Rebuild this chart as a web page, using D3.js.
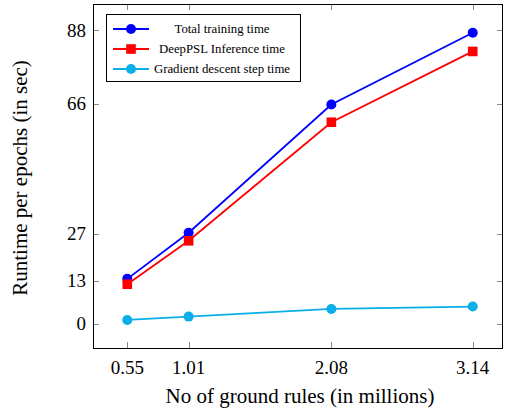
<!DOCTYPE html>
<html>
<head>
<meta charset="utf-8">
<script src="https://cdn.jsdelivr.net/npm/d3@7"></script>
<style>
  body { margin: 0; background: #fff; }
  text { font-family: "Liberation Serif", "DejaVu Serif", serif; fill: #000; }
</style>
</head>
<body>
<div id="chart"></div>
<script>
// data
var rules = [0.55, 1.01, 2.08, 3.14];
var totalTime = [13.5, 27.3, 65.7, 87.2];
var inferenceTime = [11.9, 24.9, 60.4, 81.6];
var gradientTime = [1.2, 2.2, 4.5, 5.2];
var yTicks = [0, 13, 27, 66, 88];
var seriesNames = ["Total training time", "DeepPSL Inference time", "Gradient descent step time"];

var w = 505, h = 414;
var plotLeft = 93, plotRight = 503, plotTop = 4, plotBottom = 348;

var svg = d3.select("#chart").append("svg")
    .attr("width", w).attr("height", h);

var x = d3.scaleLinear().domain([0.293, 3.367]).range([plotLeft, plotRight]);
var y = d3.scaleLinear().domain([-7.2, 95.8]).range([plotBottom, plotTop]);

var series = [
  { name: seriesNames[0], vals: totalTime, color: "#0000ff", shape: "circle" },
  { name: seriesNames[1], vals: inferenceTime, color: "#ff0000", shape: "square" },
  { name: seriesNames[2], vals: gradientTime, color: "#0aaee8", shape: "circle" }
];

// tick marks on all four sides, pointing inward
var tk = 6;
var ticks = svg.append("g").attr("stroke", "#888").attr("stroke-width", 1);
rules.forEach(function(v) {
  var px = Math.round(x(v)) + 0.5;
  ticks.append("line").attr("x1", px).attr("x2", px).attr("y1", plotBottom).attr("y2", plotBottom - tk);
  ticks.append("line").attr("x1", px).attr("x2", px).attr("y1", plotTop).attr("y2", plotTop + tk);
});
yTicks.forEach(function(v) {
  var py = Math.round(y(v)) + 0.5;
  ticks.append("line").attr("x1", plotLeft).attr("x2", plotLeft + tk).attr("y1", py).attr("y2", py);
  ticks.append("line").attr("x1", plotRight).attr("x2", plotRight - tk).attr("y1", py).attr("y2", py);
});

// tick labels
svg.selectAll("text.xt").data(rules).enter().append("text")
  .attr("class", "xt")
  .attr("x", function(d) { return x(d); })
  .attr("y", 374)
  .attr("text-anchor", "middle")
  .style("font-size", "19px")
  .text(function(d) { return d.toFixed(2); });

svg.selectAll("text.yt").data(yTicks).enter().append("text")
  .attr("class", "yt")
  .attr("x", 86)
  .attr("y", function(d) { return y(d) + 6.5; })
  .attr("text-anchor", "end")
  .style("font-size", "19px")
  .text(function(d) { return d; });

// axis titles
svg.append("text")
  .attr("x", 300)
  .attr("y", 403)
  .attr("text-anchor", "middle")
  .style("font-size", "21px")
  .text("No of ground rules (in millions)");

svg.append("text")
  .attr("transform", "translate(27,178) rotate(-90)")
  .attr("text-anchor", "middle")
  .style("font-size", "21px")
  .text("Runtime per epochs (in sec)");

// lines and markers
var line = d3.line()
  .x(function(d, i) { return x(rules[i]); })
  .y(function(d) { return y(d); });

function drawMarker(g, shape, color, cx, cy) {
  if (shape === "square") {
    g.append("rect").attr("x", cx - 4.8).attr("y", cy - 4.8)
      .attr("width", 9.6).attr("height", 9.6).attr("fill", color);
  } else {
    g.append("circle").attr("cx", cx).attr("cy", cy).attr("r", 5).attr("fill", color);
  }
}

series.forEach(function(s) {
  svg.append("path")
    .attr("d", line(s.vals))
    .attr("fill", "none")
    .attr("stroke", s.color)
    .attr("stroke-width", 1.8);
  var g = svg.append("g");
  s.vals.forEach(function(v, i) {
    drawMarker(g, s.shape, s.color, x(rules[i]), y(v));
  });
});

// frame
svg.append("rect")
  .attr("x", plotLeft + 0.5).attr("y", plotTop + 0.5)
  .attr("width", plotRight - plotLeft - 1).attr("height", plotBottom - plotTop)
  .attr("fill", "none").attr("stroke", "#000").attr("stroke-width", 1);

// legend
var leg = svg.append("g");
leg.append("rect")
  .attr("x", 106.5).attr("y", 14.5).attr("width", 194).attr("height", 67)
  .attr("fill", "#fff").attr("stroke", "#000").attr("stroke-width", 1);
var rowY = [29, 49, 69];
series.forEach(function(s, i) {
  leg.append("line")
    .attr("x1", 113).attr("x2", 149).attr("y1", rowY[i]).attr("y2", rowY[i])
    .attr("stroke", s.color).attr("stroke-width", 1.8);
  drawMarker(leg, s.shape, s.color, 131, rowY[i]);
  leg.append("text")
    .attr("x", 222).attr("y", rowY[i] + 4)
    .attr("text-anchor", "middle")
    .style("font-size", "12.8px")
    .text(s.name);
});
</script>
</body>
</html>
